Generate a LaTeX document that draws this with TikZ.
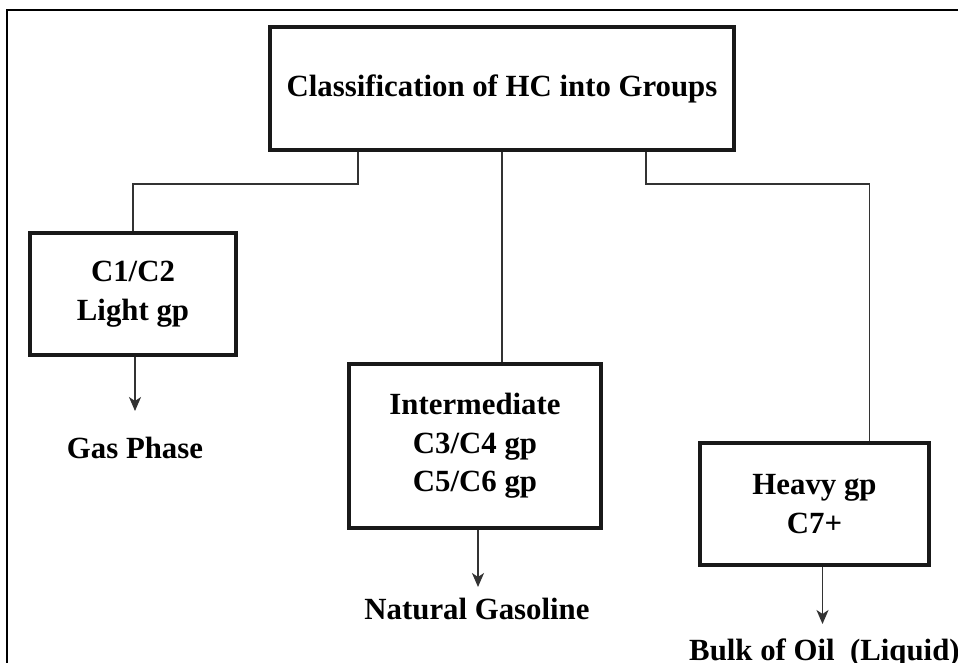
\documentclass[tikz,border=0pt]{standalone}
\usepackage{fontspec}
\setmainfont{Liberation Serif}
\usetikzlibrary{arrows.meta}
\begin{document}
\begin{tikzpicture}[x=1pt,y=-1pt,
  box/.style={draw=black!90,line width=4pt,inner sep=0pt,align=center,
    font=\fontsize{30.8}{38.5}\selectfont\bfseries},
  lbl/.style={inner sep=0pt,font=\fontsize{30.8}{38.5}\selectfont\bfseries},
  conn/.style={draw=black!80,line width=1.8pt},
  arr/.style={conn,-{Stealth[length=14pt,width=12pt,inset=4pt]}}]
\useasboundingbox[fill=white] (0,0) rectangle (958,662);
\draw[line width=2pt] (7,700) -- (7,10) -- (1000,10);
\node[box,minimum width=464pt,minimum height=123pt] (top) at (502,88.5) {Classification of HC into Groups};
\node[box,minimum width=206pt,minimum height=122pt] (c12) at (133,294) {C1/C2\\Light gp};
\node[box,minimum width=252pt,minimum height=164pt] (inter) at (475,446) {Intermediate\\C3/C4 gp\\C5/C6 gp};
\node[box,minimum width=229pt,minimum height=122pt] (heavy) at (814.5,504) {Heavy gp\\C7+};
\node[lbl,anchor=base] (gas) at (135,458) {Gas Phase};
\node[lbl,anchor=base] (ng) at (477,619) {Natural Gasoline};
\node[lbl,anchor=base west] (bulk) at (689,660) {Bulk of Oil\ \ (Liquid)};
\draw[conn] ([xshift=-144pt]top.south) -- ++(0,32) -| (c12.north);
\draw[conn] (top.south) -- (top.south |- inter.north);
\draw[conn] ([xshift=144pt]top.south) -- ++(0,32) -| ([xshift=55pt]heavy.north);
\draw[arr] ([xshift=2pt]c12.south) -- ([xshift=2pt,yshift=-54pt]c12.south);
\draw[arr] ([xshift=3pt]inter.south) -- ([xshift=3pt,yshift=-57pt]inter.south);
\draw[arr] ([xshift=8pt]heavy.south) -- ([xshift=8pt,yshift=-57pt]heavy.south);
\end{tikzpicture}
\end{document}
